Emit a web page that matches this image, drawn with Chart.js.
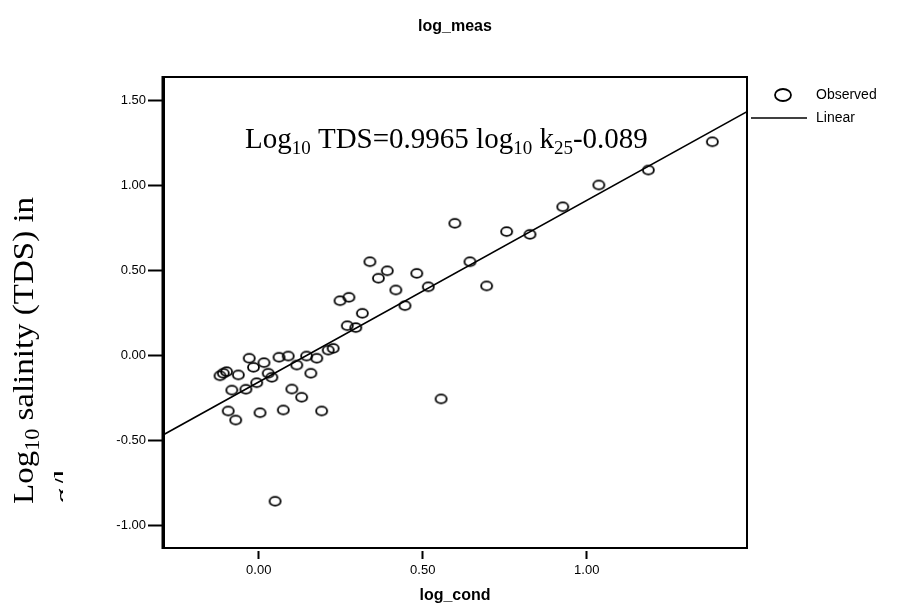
<!DOCTYPE html>
<html><head><meta charset="utf-8">
<script src="https://cdn.jsdelivr.net/npm/chart.js@4.4.0/dist/chart.umd.min.js"></script>
<style>html,body{margin:0;padding:0;background:#fff;}#wrap{width:901px;height:610px;}</style>
</head><body><div id="wrap"><canvas id="c" width="901" height="610"></canvas></div>
<script>
// ---- data ----
const logCond = [1.383, 1.188, 1.037, 0.927, 0.827, 0.756, 0.644, 0.695, 0.598, 0.339,
  0.365, 0.392, 0.482, 0.418, 0.517, 0.248, 0.275, 0.316, 0.270, 0.296,
  0.446, 0.212, 0.227, -0.118, -0.108, -0.098, -0.062, -0.029, -0.016, 0.016,
  0.029, 0.040, 0.062, 0.090, 0.116, 0.146, 0.177, 0.159, -0.082, -0.039,
  -0.006, 0.101, 0.131, -0.093, -0.070, 0.004, 0.075, 0.192, 0.556, 0.050];
const logMeas = [1.257, 1.091, 1.003, 0.875, 0.713, 0.729, 0.552, 0.410, 0.778, 0.552,
  0.455, 0.499, 0.484, 0.386, 0.405, 0.323, 0.343, 0.249, 0.176, 0.165,
  0.294, 0.033, 0.043, -0.118, -0.103, -0.094, -0.113, -0.015, -0.068, -0.041,
  -0.103, -0.127, -0.009, -0.002, -0.055, -0.002, -0.015, -0.103, -0.202, -0.197,
  -0.159, -0.196, -0.244, -0.325, -0.378, -0.335, -0.319, -0.325, -0.254, -0.855];
const fitX = [-0.2918, 1.4887];
const fitY = [-0.466, 1.434];
const xTickValues = [0, 0.5, 1.0];
const yTickValues = [-1.0, -0.5, 0, 0.5, 1.0, 1.5];
const chartTitle = 'log_meas';
const xTitle = 'log_cond';
const seriesLabels = ['Observed', 'Linear'];
const equationParts = [['Log', 0], ['10', 1], [' TDS=0.9965 log', 0], ['10', 1], [' k', 0], ['25', 1], ['-0.089', 0]];
const yTitleLine1 = [['Log', 0], ['10', 1], [' salinity (TDS) in', 0]];
const yTitleLine2 = [['g/l', 0]];

// ---- styling ----
const SANS = '"Liberation Sans", Arial, sans-serif';
const SERIF = '"Liberation Serif", "Times New Roman", serif';

function makeEllipse(rx, ry, lw) {
  const c = document.createElement('canvas');
  c.width = Math.ceil(2 * rx + lw + 2);
  c.height = Math.ceil(2 * ry + lw + 2);
  const g = c.getContext('2d');
  g.lineWidth = lw; g.strokeStyle = '#000';
  g.beginPath(); g.ellipse(c.width / 2, c.height / 2, rx, ry, 0, 0, Math.PI * 2); g.stroke();
  return c;
}
const pointImg = makeEllipse(5.5, 4.3, 1.8);

function drawRich(ctx, parts, x, y, size, subSize, subDrop) {
  let cx = x;
  for (const [t, sub] of parts) {
    ctx.font = (sub ? subSize : size) + 'px ' + SERIF;
    ctx.fillText(t, cx, y + (sub ? subDrop : 0));
    cx += ctx.measureText(t).width;
  }
  return cx;
}

const extras = {
  id: 'extras',
  afterDraw(chart) {
    const ctx = chart.ctx;
    const a = chart.chartArea;
    ctx.save();
    // frame
    ctx.strokeStyle = '#000';
    ctx.lineWidth = 2;
    ctx.strokeRect(a.left, a.top, a.right - a.left, a.bottom - a.top);
    ctx.lineWidth = 3;
    ctx.beginPath(); ctx.moveTo(a.left, a.top - 1); ctx.lineTo(a.left, a.bottom + 1); ctx.stroke();

    ctx.fillStyle = '#000';
    // chart title
    ctx.font = 'bold 16px ' + SANS;
    ctx.textAlign = 'center'; ctx.textBaseline = 'middle';
    ctx.fillText(chartTitle, (a.left + a.right) / 2, 27);

    // equation
    ctx.textAlign = 'left'; ctx.textBaseline = 'alphabetic';
    drawRich(ctx, equationParts, 245, 148, 29, 19, 6);

    // y axis title (rotated, second line clipped)
    ctx.save();
    ctx.beginPath(); ctx.rect(0, 0, 63, chart.height); ctx.clip();
    ctx.translate(33, 504);
    ctx.rotate(-Math.PI / 2);
    ctx.scale(1.1, 1);
    drawRich(ctx, yTitleLine1, 0, 0, 30, 20, 6);
    drawRich(ctx, yTitleLine2, 0, 41, 30, 20, 6);
    ctx.restore();

    // legend
    const lx = a.right;
    const d0 = chart.data.datasets[0], d1 = chart.data.datasets[1];
    ctx.lineWidth = 1.8; ctx.strokeStyle = '#000';
    ctx.beginPath(); ctx.ellipse(lx + 36, 95, 8, 6, 0, 0, Math.PI * 2); ctx.stroke();
    ctx.lineWidth = d1.borderWidth;
    ctx.beginPath(); ctx.moveTo(lx + 4, 118); ctx.lineTo(lx + 60, 118); ctx.stroke();
    ctx.font = '14px ' + SANS;
    ctx.textBaseline = 'middle';
    ctx.fillText(d0.label, lx + 69, 95);
    ctx.fillText(d1.label, lx + 69, 118);
    ctx.restore();
  }
};

const points = logCond.map((x, i) => ({ x: x, y: logMeas[i] }));
const fitLine = fitX.map((x, i) => ({ x: x, y: fitY[i] }));

new Chart(document.getElementById('c'), {
  type: 'scatter',
  data: {
    datasets: [
      { type: 'scatter', label: seriesLabels[0], data: points, pointStyle: pointImg,
        pointRadius: 5, pointHoverRadius: 5, borderColor: '#000', backgroundColor: 'transparent', order: 1 },
      { type: 'line', label: seriesLabels[1], data: fitLine, borderColor: '#000', borderWidth: 1.6,
        pointRadius: 0, fill: false, tension: 0, order: 2 }
    ]
  },
  options: {
    responsive: false, animation: false, devicePixelRatio: 1,
    layout: { padding: { left: 0, right: 154, top: 77, bottom: 0 } },
    plugins: { legend: { display: false }, title: { display: false }, tooltip: { enabled: false } },
    scales: {
      x: {
        type: 'linear', min: -0.2918, max: 1.4887,
        afterBuildTicks: s => { s.ticks = xTickValues.map(v => ({ value: v })); },
        afterFit: s => { s.height = 62; },
        ticks: { callback: v => Number(v).toFixed(2), color: '#000', font: { family: SANS, size: 13 }, padding: 4, maxRotation: 0, autoSkip: false },
        grid: { drawOnChartArea: false, drawTicks: true, tickLength: 11, tickBorderDash: [0, 3, 8, 100], tickColor: '#000', tickWidth: 2 },
        border: { display: false },
        title: { display: true, text: xTitle, color: '#000', font: { family: SANS, size: 16, weight: 'bold' }, padding: { top: 0, bottom: 5 } }
      },
      y: {
        type: 'linear', min: -1.130, max: 1.6375,
        afterBuildTicks: s => { s.ticks = yTickValues.map(v => ({ value: v })); },
        afterFit: s => { s.width = 163; },
        ticks: { callback: v => Number(v).toFixed(2), color: '#000', font: { family: SANS, size: 13 }, padding: 2 },
        grid: { drawOnChartArea: false, drawTicks: true, tickLength: 15, tickColor: '#000', tickWidth: 2 },
        border: { display: true, color: '#000', width: 3 }
      }
    }
  },
  plugins: [extras]
});
</script></body></html>
